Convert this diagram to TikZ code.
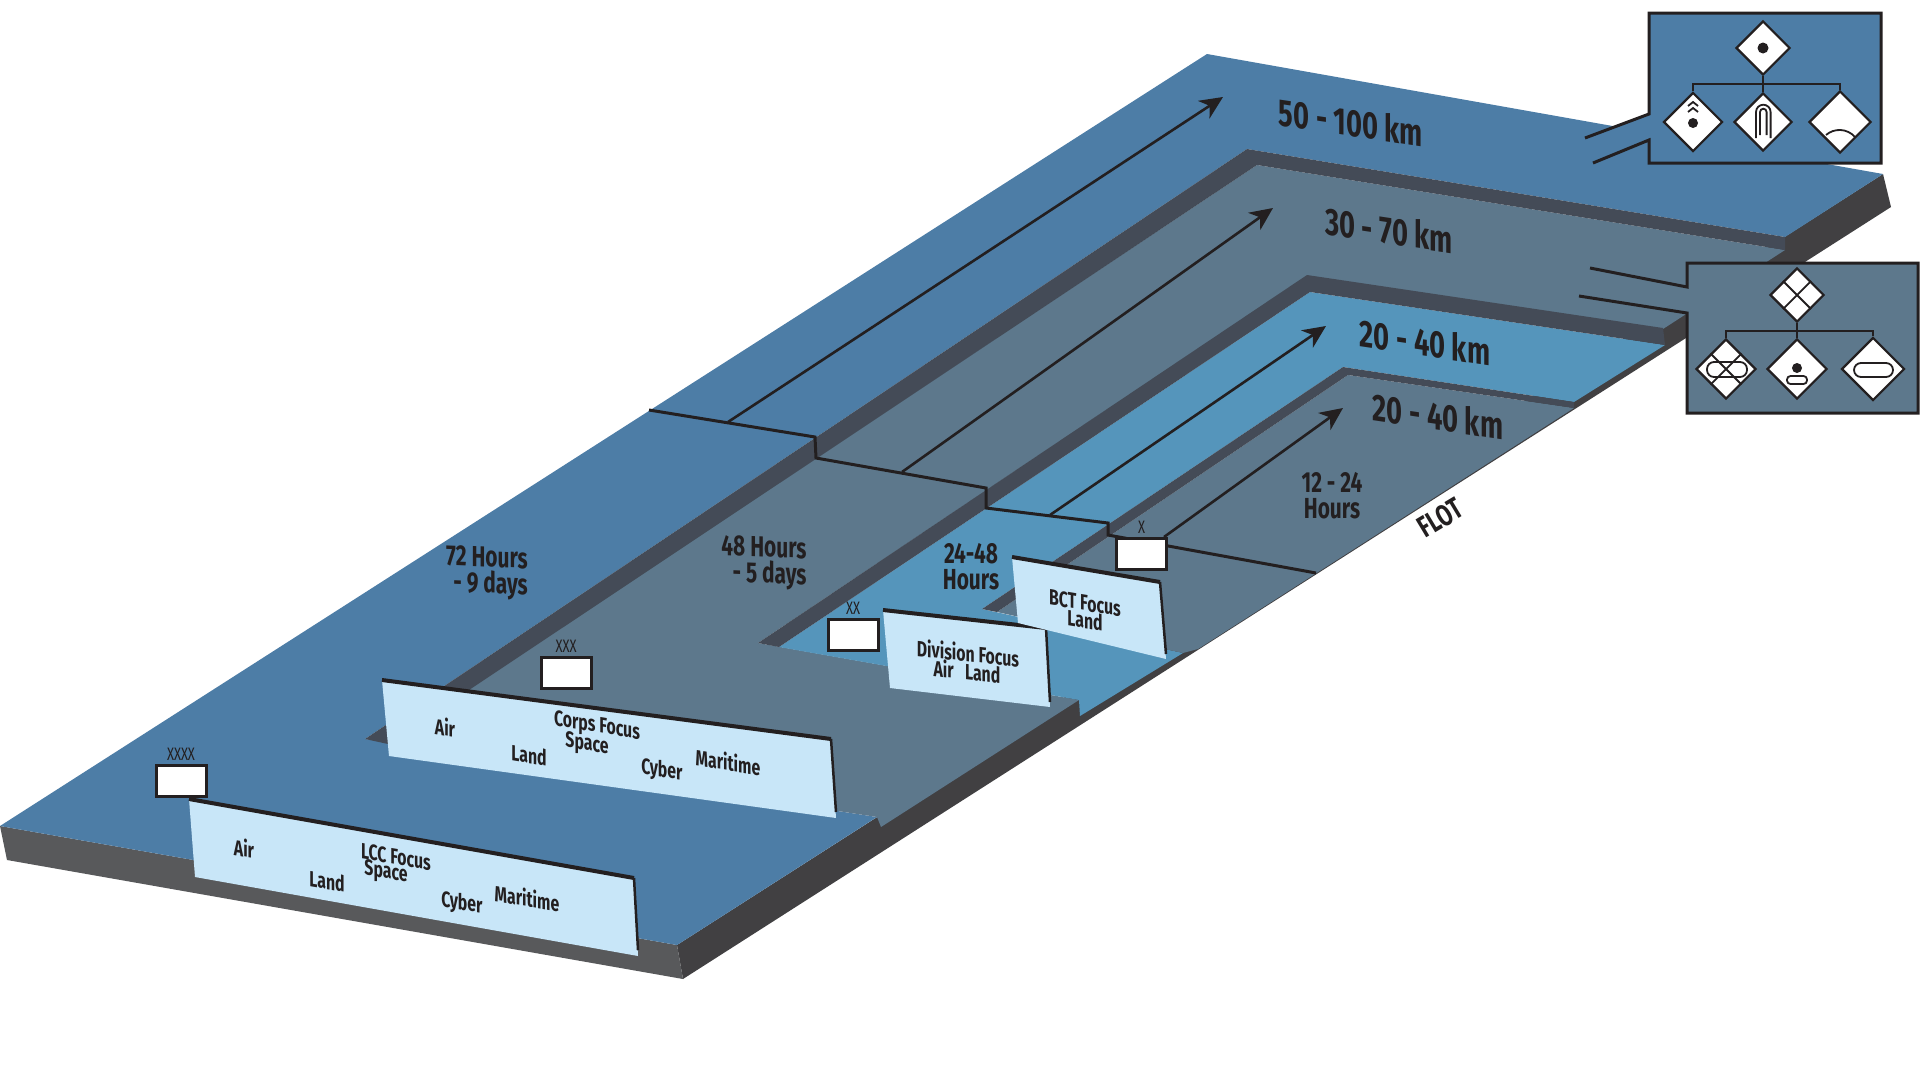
\documentclass[tikz,border=0pt]{standalone}
\usepackage{fontspec}
\usetikzlibrary{arrows.meta,positioning,shapes.geometric}
\newfontfamily\dinfont[FakeStretch=0.72]{Fira Sans}
\definecolor{upperblue}{HTML}{4D7DA6}
\definecolor{greyblue}{HTML}{5D788C}
\definecolor{paleblue}{HTML}{5595BB}
\definecolor{stripcol}{HTML}{444B57}
\definecolor{sidecol}{HTML}{414042}
\definecolor{frontcol}{HTML}{58595B}
\definecolor{panelcol}{HTML}{C8E6F8}
\definecolor{inkcol}{HTML}{231F20}
\tikzset{
	kmtext/.style={font=\dinfont\bfseries\fontsize{38}{38}\selectfont,text=inkcol,yslant=-0.15,inner sep=0pt},
	hrtext/.style={font=\dinfont\bfseries\fontsize{29}{26}\selectfont,text=inkcol,inner sep=0pt},
	focustext/.style={font=\dinfont\bfseries\fontsize{22}{22}\selectfont,text=inkcol,yslant=#1,inner sep=0pt},
	focustext/.default=-0.17,
	xtext/.style={font=\dinfont\fontsize{18}{18}\selectfont,text=inkcol,inner sep=0pt},
	flagbox/.style={draw=inkcol,fill=white,line width=3pt,minimum width=50pt,minimum height=31pt,inner sep=0pt},
	symb/.style={shape=diamond,draw=inkcol,fill=white,line width=2.2pt,inner sep=0pt,minimum width=#1,minimum height=#1},
	zone/.style={line width=3pt,draw=inkcol},
	adv/.style={line width=2.6pt,draw=inkcol,-{Stealth[length=23pt,width=21pt,inset=7pt]}},
	glyph/.style={line width=1.8pt,draw=inkcol}
}
\begin{document}
\begin{tikzpicture}[x=1pt,y=-1pt]
	\useasboundingbox (0,0) rectangle (1920,1080);
	\fill[sidecol] (677,945)--(1883,174)--(1891,207)--(683,979)--cycle;
	\fill[frontcol] (0,826)--(677,945)--(683,979)--(7,860)--cycle;
	\fill[upperblue] (0,826)--(1207,54)--(1883,174)--(1785,237)--(1247,149)--(365,739)--(877,817)--(677,945)--cycle;
	\fill[greyblue] (1257,165)--(1785,250)--(1663,329)--(1307,276)--(758,643)--(1079,700)--(881,827)--(877,817)--(388,742)--cycle;
	\fill[stripcol] (1247,149)--(1785,237)--(1785,250)--(1257,165)--(388,744)--(365,739)--cycle;
	\fill[paleblue] (1310,292)--(1665,345)--(1574,402)--(1343,367)--(982,609)--(1183,653)--(1080,716)--(1079,700)--(779,647)--cycle;
	\fill[stripcol] (1307,275)--(1663,328)--(1665,345)--(1310,292)--(779,647)--(758,643)--cycle;
	\fill[greyblue] (1348,375)--(1574,408)--(1198,649)--(1183,653)--(997,612)--cycle;
	\fill[stripcol] (1343,367)--(1574,402)--(1574,408)--(1348,375)--(997,612)--(982,609)--cycle;
	% phase lines
	\draw[zone] (649,410)--(815,437)--(816,458)--(986,488)--(986,508)--(1108,523)--(1108,535)--(1316,573);
	\coordinate (advAs) at (728,422);
	\coordinate (advAe) at (1223,97);
	\coordinate (advBs) at (902,472);
	\coordinate (advBe) at (1273,208);
	\coordinate (advCs) at (1050,515);
	\coordinate (advCe) at (1326,326);
	\coordinate (advDs) at (1164,537);
	\coordinate (advDe) at (1343,408);
	\draw[adv] (advAs)--(advAe);
	\draw[adv] (advBs)--(advBe);
	\draw[adv] (advCs)--(advCe);
	\draw[adv] (advDs)--(advDe);
	\node[kmtext] (kmA) at (1351,122) {50 - 100 km};
	\node[kmtext] (kmB) at (1389,230) {30 - 70 km};
	\node[kmtext] (kmC) at (1425,342) {20 - 40 km};
	\node[kmtext] (kmD) at (1438,416) {20 - 40 km};
	\node[hrtext,align=right,yslant=-0.04] (hrA) at (487,573) {72 Hours\\- 9 days};
	\node[hrtext,align=right,yslant=-0.04] (hrB) at (764,563) {48 Hours\\- 5 days};
	\node[hrtext,align=center] (hrC) at (971,567) {24-48\\Hours};
	\node[hrtext,align=center] (hrD) at (1332,496) {12 - 24\\Hours};
	\node[font=\dinfont\bfseries\fontsize{30}{30}\selectfont,text=inkcol,rotate=31,inner sep=0pt] (flot) at (1440,518) {FLOT};
	% panels
	\fill[panelcol] (189,799)--(634,878)--(638,956)--(195,877)--cycle;
	\draw[inkcol,line width=4pt] (189,799)--(634,878);
	\draw[inkcol,line width=2.5pt] (634,878)--(638,950);
	\fill[panelcol] (382,680)--(831,739)--(836,818)--(389,756)--cycle;
	\draw[inkcol,line width=4pt] (382,680)--(831,739);
	\draw[inkcol,line width=2.5pt] (831,739)--(836,812);
	\fill[panelcol] (883,610)--(1046,628)--(1050,707)--(890,688)--cycle;
	\draw[inkcol,line width=4pt] (883,610)--(1046,628);
	\draw[inkcol,line width=2.5pt] (1046,628)--(1050,702);
	\fill[panelcol] (1012,557)--(1160,582)--(1166,659)--(1018,623)--cycle;
	\draw[inkcol,line width=4pt] (1012,557)--(1160,582);
	\draw[inkcol,line width=2.5pt] (1160,582)--(1166,654);
	\node[focustext] (lccAir) at (244,848) {Air};
	\node[focustext] (lccLand) at (327,881) {Land};
	\node[focustext] (lccFocus) at (396,857) {LCC Focus};
	\node[focustext] (lccSpace) at (386,873) {Space};
	\node[focustext] (lccCyber) at (462,904) {Cyber};
	\node[focustext] (lccMar) at (527,898) {Maritime};
	\node[focustext] (corAir) at (445,727) {Air};
	\node[focustext] (corLand) at (529,755) {Land};
	\node[focustext] (corFocus) at (597,727) {Corps Focus};
	\node[focustext] (corSpace) at (587,745) {Space};
	\node[focustext] (corCyber) at (662,771) {Cyber};
	\node[focustext] (corMar) at (728,762) {Maritime};
	\node[focustext=-0.11] (divFocus) at (968,653) {Division Focus};
	\node[focustext=-0.11] (divLand) at (967,671) {Air\ \ \ Land};
	\node[focustext] (bctFocus) at (1085,603) {BCT Focus};
	\node[focustext] (bctLand) at (1085,620) {Land};
	% echelon boxes
	\node[flagbox] (boxD) at (181,780.5) {};
	\node[flagbox] (boxC) at (566,672.5) {};
	\node[flagbox] (boxB) at (853,634.5) {};
	\node[flagbox] (boxA) at (1141.5,554) {};
	\node[xtext,above=3pt of boxD] (capD) {XXXX};
	\node[xtext,above=3pt of boxC] (capC) {XXX};
	\node[xtext,above=3pt of boxB] (capB) {XX};
	\node[xtext,above=3pt of boxA] (capA) {X};
	% upper inset
	\fill[upperblue] (1585,138)--(1649,114)--(1649,13)--(1881,13)--(1881,163)--(1649,163)--(1649,140)--(1593,163)--cycle;
	\draw[zone] (1585,138)--(1649,114)--(1649,13)--(1881,13)--(1881,163)--(1649,163)--(1649,140)--(1593,163);
	\node[symb=54pt] (uTop) at (1763,48) {};
	\node[symb=59pt] (uLeft) at (1693,122) {};
	\node[symb=58pt] (uMid) at (1763,122) {};
	\node[symb=62pt] (uRight) at (1840,122) {};
	\coordinate (uBar) at (1763,84);
	\draw[inkcol,line width=2.2pt] (uTop.south)--(uMid.north);
	\draw[inkcol,line width=2.2pt] (uLeft.north)--(uLeft.north |- uBar)--(uRight.north |- uBar)--(uRight.north);
	\fill[inkcol] (uTop.center) circle(5.5);
	\fill[inkcol] (1693,123) circle(5);
	\draw[glyph] (1688,106)--(1693,102)--(1698,106) (1688,112)--(1693,108)--(1698,112);
	\draw[glyph] (1756,138)--(1756,112) arc(180:360:7.3)--(1770.6,138);
	\draw[glyph] (1760,135)--(1760,112) arc(180:360:3.3)--(1766.6,135);
	\draw[glyph] (1826,135) .. controls (1834,128) and (1847,128) .. (1855,137);
	% lower inset
	\fill[greyblue] (1590,268)--(1687,287)--(1687,263)--(1918,263)--(1918,413)--(1687,413)--(1687,313)--(1579,296)--cycle;
	\draw[zone] (1590,268)--(1687,287)--(1687,263)--(1918,263)--(1918,413)--(1687,413)--(1687,313)--(1579,296);
	\node[symb=54pt] (lTop) at (1797,295) {};
	\node[symb=60pt] (lLeft) at (1726,369) {};
	\node[symb=60pt] (lMid) at (1797,369) {};
	\node[symb=63pt] (lRight) at (1873,369) {};
	\coordinate (lBar) at (1797,331);
	\draw[inkcol,line width=2.2pt] (lTop.south)--(lMid.north);
	\draw[inkcol,line width=2.2pt] (lLeft.north)--(lLeft.north |- lBar)--(lRight.north |- lBar)--(lRight.north);
	\draw[glyph] (lTop.north east)--(lTop.south west) (lTop.north west)--(lTop.south east);
	\draw[glyph] (lLeft.north east)--(lLeft.south west) (lLeft.north west)--(lLeft.south east);
	\draw[glyph,rounded corners=7pt] (1707,362) rectangle (1747,377);
	\fill[inkcol] (1797,368) circle(5);
	\draw[glyph,rounded corners=3.5pt] (1787,376) rectangle (1807,384);
	\draw[glyph,rounded corners=7pt] (1854,363) rectangle (1893,377);
\end{tikzpicture}
\end{document}
